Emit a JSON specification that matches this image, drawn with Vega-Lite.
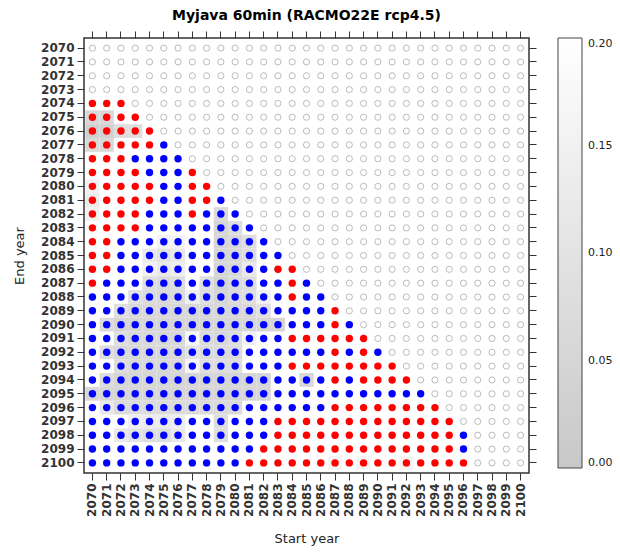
{
"$schema": "https://vega.github.io/schema/vega-lite/v6.json",
"width": 445, "height": 435,
"autosize": {"type": "none"},
"padding": {"left": 84, "top": 38, "right": 91, "bottom": 80},
"background": "white",
"config": {"view": {"stroke": "#333333", "strokeWidth": 1.5}},
"title": {"text": "Myjava 60min (RACMO22E rcp4.5)", "font": "DejaVu Sans", "fontSize": 14, "fontWeight": "bold", "color": "#000000", "anchor": "middle", "offset": 8},
"data": {"values": [
{"s":2070,"e":2070,"c":"N"},{"s":2071,"e":2070,"c":"N"},{"s":2072,"e":2070,"c":"N"},{"s":2073,"e":2070,"c":"N"},{"s":2074,"e":2070,"c":"N"},{"s":2075,"e":2070,"c":"N"},{"s":2076,"e":2070,"c":"N"},{"s":2077,"e":2070,"c":"N"},{"s":2078,"e":2070,"c":"N"},{"s":2079,"e":2070,"c":"N"},{"s":2080,"e":2070,"c":"N"},{"s":2081,"e":2070,"c":"N"},{"s":2082,"e":2070,"c":"N"},{"s":2083,"e":2070,"c":"N"},{"s":2084,"e":2070,"c":"N"},{"s":2085,"e":2070,"c":"N"},{"s":2086,"e":2070,"c":"N"},{"s":2087,"e":2070,"c":"N"},{"s":2088,"e":2070,"c":"N"},{"s":2089,"e":2070,"c":"N"},{"s":2090,"e":2070,"c":"N"},{"s":2091,"e":2070,"c":"N"},{"s":2092,"e":2070,"c":"N"},{"s":2093,"e":2070,"c":"N"},{"s":2094,"e":2070,"c":"N"},{"s":2095,"e":2070,"c":"N"},{"s":2096,"e":2070,"c":"N"},{"s":2097,"e":2070,"c":"N"},{"s":2098,"e":2070,"c":"N"},{"s":2099,"e":2070,"c":"N"},{"s":2100,"e":2070,"c":"N"},
{"s":2070,"e":2071,"c":"N"},{"s":2071,"e":2071,"c":"N"},{"s":2072,"e":2071,"c":"N"},{"s":2073,"e":2071,"c":"N"},{"s":2074,"e":2071,"c":"N"},{"s":2075,"e":2071,"c":"N"},{"s":2076,"e":2071,"c":"N"},{"s":2077,"e":2071,"c":"N"},{"s":2078,"e":2071,"c":"N"},{"s":2079,"e":2071,"c":"N"},{"s":2080,"e":2071,"c":"N"},{"s":2081,"e":2071,"c":"N"},{"s":2082,"e":2071,"c":"N"},{"s":2083,"e":2071,"c":"N"},{"s":2084,"e":2071,"c":"N"},{"s":2085,"e":2071,"c":"N"},{"s":2086,"e":2071,"c":"N"},{"s":2087,"e":2071,"c":"N"},{"s":2088,"e":2071,"c":"N"},{"s":2089,"e":2071,"c":"N"},{"s":2090,"e":2071,"c":"N"},{"s":2091,"e":2071,"c":"N"},{"s":2092,"e":2071,"c":"N"},{"s":2093,"e":2071,"c":"N"},{"s":2094,"e":2071,"c":"N"},{"s":2095,"e":2071,"c":"N"},{"s":2096,"e":2071,"c":"N"},{"s":2097,"e":2071,"c":"N"},{"s":2098,"e":2071,"c":"N"},{"s":2099,"e":2071,"c":"N"},{"s":2100,"e":2071,"c":"N"},
{"s":2070,"e":2072,"c":"N"},{"s":2071,"e":2072,"c":"N"},{"s":2072,"e":2072,"c":"N"},{"s":2073,"e":2072,"c":"N"},{"s":2074,"e":2072,"c":"N"},{"s":2075,"e":2072,"c":"N"},{"s":2076,"e":2072,"c":"N"},{"s":2077,"e":2072,"c":"N"},{"s":2078,"e":2072,"c":"N"},{"s":2079,"e":2072,"c":"N"},{"s":2080,"e":2072,"c":"N"},{"s":2081,"e":2072,"c":"N"},{"s":2082,"e":2072,"c":"N"},{"s":2083,"e":2072,"c":"N"},{"s":2084,"e":2072,"c":"N"},{"s":2085,"e":2072,"c":"N"},{"s":2086,"e":2072,"c":"N"},{"s":2087,"e":2072,"c":"N"},{"s":2088,"e":2072,"c":"N"},{"s":2089,"e":2072,"c":"N"},{"s":2090,"e":2072,"c":"N"},{"s":2091,"e":2072,"c":"N"},{"s":2092,"e":2072,"c":"N"},{"s":2093,"e":2072,"c":"N"},{"s":2094,"e":2072,"c":"N"},{"s":2095,"e":2072,"c":"N"},{"s":2096,"e":2072,"c":"N"},{"s":2097,"e":2072,"c":"N"},{"s":2098,"e":2072,"c":"N"},{"s":2099,"e":2072,"c":"N"},{"s":2100,"e":2072,"c":"N"},
{"s":2070,"e":2073,"c":"N"},{"s":2071,"e":2073,"c":"N"},{"s":2072,"e":2073,"c":"N"},{"s":2073,"e":2073,"c":"N"},{"s":2074,"e":2073,"c":"N"},{"s":2075,"e":2073,"c":"N"},{"s":2076,"e":2073,"c":"N"},{"s":2077,"e":2073,"c":"N"},{"s":2078,"e":2073,"c":"N"},{"s":2079,"e":2073,"c":"N"},{"s":2080,"e":2073,"c":"N"},{"s":2081,"e":2073,"c":"N"},{"s":2082,"e":2073,"c":"N"},{"s":2083,"e":2073,"c":"N"},{"s":2084,"e":2073,"c":"N"},{"s":2085,"e":2073,"c":"N"},{"s":2086,"e":2073,"c":"N"},{"s":2087,"e":2073,"c":"N"},{"s":2088,"e":2073,"c":"N"},{"s":2089,"e":2073,"c":"N"},{"s":2090,"e":2073,"c":"N"},{"s":2091,"e":2073,"c":"N"},{"s":2092,"e":2073,"c":"N"},{"s":2093,"e":2073,"c":"N"},{"s":2094,"e":2073,"c":"N"},{"s":2095,"e":2073,"c":"N"},{"s":2096,"e":2073,"c":"N"},{"s":2097,"e":2073,"c":"N"},{"s":2098,"e":2073,"c":"N"},{"s":2099,"e":2073,"c":"N"},{"s":2100,"e":2073,"c":"N"},
{"s":2070,"e":2074,"c":"R"},{"s":2071,"e":2074,"c":"R"},{"s":2072,"e":2074,"c":"R"},{"s":2073,"e":2074,"c":"N"},{"s":2074,"e":2074,"c":"N"},{"s":2075,"e":2074,"c":"N"},{"s":2076,"e":2074,"c":"N"},{"s":2077,"e":2074,"c":"N"},{"s":2078,"e":2074,"c":"N"},{"s":2079,"e":2074,"c":"N"},{"s":2080,"e":2074,"c":"N"},{"s":2081,"e":2074,"c":"N"},{"s":2082,"e":2074,"c":"N"},{"s":2083,"e":2074,"c":"N"},{"s":2084,"e":2074,"c":"N"},{"s":2085,"e":2074,"c":"N"},{"s":2086,"e":2074,"c":"N"},{"s":2087,"e":2074,"c":"N"},{"s":2088,"e":2074,"c":"N"},{"s":2089,"e":2074,"c":"N"},{"s":2090,"e":2074,"c":"N"},{"s":2091,"e":2074,"c":"N"},{"s":2092,"e":2074,"c":"N"},{"s":2093,"e":2074,"c":"N"},{"s":2094,"e":2074,"c":"N"},{"s":2095,"e":2074,"c":"N"},{"s":2096,"e":2074,"c":"N"},{"s":2097,"e":2074,"c":"N"},{"s":2098,"e":2074,"c":"N"},{"s":2099,"e":2074,"c":"N"},{"s":2100,"e":2074,"c":"N"},
{"s":2070,"e":2075,"c":"R","v":0.06},{"s":2071,"e":2075,"c":"R","v":0.06},{"s":2072,"e":2075,"c":"R"},{"s":2073,"e":2075,"c":"R"},{"s":2074,"e":2075,"c":"N"},{"s":2075,"e":2075,"c":"N"},{"s":2076,"e":2075,"c":"N"},{"s":2077,"e":2075,"c":"N"},{"s":2078,"e":2075,"c":"N"},{"s":2079,"e":2075,"c":"N"},{"s":2080,"e":2075,"c":"N"},{"s":2081,"e":2075,"c":"N"},{"s":2082,"e":2075,"c":"N"},{"s":2083,"e":2075,"c":"N"},{"s":2084,"e":2075,"c":"N"},{"s":2085,"e":2075,"c":"N"},{"s":2086,"e":2075,"c":"N"},{"s":2087,"e":2075,"c":"N"},{"s":2088,"e":2075,"c":"N"},{"s":2089,"e":2075,"c":"N"},{"s":2090,"e":2075,"c":"N"},{"s":2091,"e":2075,"c":"N"},{"s":2092,"e":2075,"c":"N"},{"s":2093,"e":2075,"c":"N"},{"s":2094,"e":2075,"c":"N"},{"s":2095,"e":2075,"c":"N"},{"s":2096,"e":2075,"c":"N"},{"s":2097,"e":2075,"c":"N"},{"s":2098,"e":2075,"c":"N"},{"s":2099,"e":2075,"c":"N"},{"s":2100,"e":2075,"c":"N"},
{"s":2070,"e":2076,"c":"R","v":0.03},{"s":2071,"e":2076,"c":"R","v":0.03},{"s":2072,"e":2076,"c":"R","v":0.08},{"s":2073,"e":2076,"c":"R","v":0.08},{"s":2074,"e":2076,"c":"R"},{"s":2075,"e":2076,"c":"N"},{"s":2076,"e":2076,"c":"N"},{"s":2077,"e":2076,"c":"N"},{"s":2078,"e":2076,"c":"N"},{"s":2079,"e":2076,"c":"N"},{"s":2080,"e":2076,"c":"N"},{"s":2081,"e":2076,"c":"N"},{"s":2082,"e":2076,"c":"N"},{"s":2083,"e":2076,"c":"N"},{"s":2084,"e":2076,"c":"N"},{"s":2085,"e":2076,"c":"N"},{"s":2086,"e":2076,"c":"N"},{"s":2087,"e":2076,"c":"N"},{"s":2088,"e":2076,"c":"N"},{"s":2089,"e":2076,"c":"N"},{"s":2090,"e":2076,"c":"N"},{"s":2091,"e":2076,"c":"N"},{"s":2092,"e":2076,"c":"N"},{"s":2093,"e":2076,"c":"N"},{"s":2094,"e":2076,"c":"N"},{"s":2095,"e":2076,"c":"N"},{"s":2096,"e":2076,"c":"N"},{"s":2097,"e":2076,"c":"N"},{"s":2098,"e":2076,"c":"N"},{"s":2099,"e":2076,"c":"N"},{"s":2100,"e":2076,"c":"N"},
{"s":2070,"e":2077,"c":"R","v":0.06},{"s":2071,"e":2077,"c":"R","v":0.06},{"s":2072,"e":2077,"c":"R"},{"s":2073,"e":2077,"c":"R"},{"s":2074,"e":2077,"c":"R"},{"s":2075,"e":2077,"c":"B"},{"s":2076,"e":2077,"c":"N"},{"s":2077,"e":2077,"c":"N"},{"s":2078,"e":2077,"c":"N"},{"s":2079,"e":2077,"c":"N"},{"s":2080,"e":2077,"c":"N"},{"s":2081,"e":2077,"c":"N"},{"s":2082,"e":2077,"c":"N"},{"s":2083,"e":2077,"c":"N"},{"s":2084,"e":2077,"c":"N"},{"s":2085,"e":2077,"c":"N"},{"s":2086,"e":2077,"c":"N"},{"s":2087,"e":2077,"c":"N"},{"s":2088,"e":2077,"c":"N"},{"s":2089,"e":2077,"c":"N"},{"s":2090,"e":2077,"c":"N"},{"s":2091,"e":2077,"c":"N"},{"s":2092,"e":2077,"c":"N"},{"s":2093,"e":2077,"c":"N"},{"s":2094,"e":2077,"c":"N"},{"s":2095,"e":2077,"c":"N"},{"s":2096,"e":2077,"c":"N"},{"s":2097,"e":2077,"c":"N"},{"s":2098,"e":2077,"c":"N"},{"s":2099,"e":2077,"c":"N"},{"s":2100,"e":2077,"c":"N"},
{"s":2070,"e":2078,"c":"R"},{"s":2071,"e":2078,"c":"R"},{"s":2072,"e":2078,"c":"R"},{"s":2073,"e":2078,"c":"B"},{"s":2074,"e":2078,"c":"B"},{"s":2075,"e":2078,"c":"B"},{"s":2076,"e":2078,"c":"B"},{"s":2077,"e":2078,"c":"N"},{"s":2078,"e":2078,"c":"N"},{"s":2079,"e":2078,"c":"N"},{"s":2080,"e":2078,"c":"N"},{"s":2081,"e":2078,"c":"N"},{"s":2082,"e":2078,"c":"N"},{"s":2083,"e":2078,"c":"N"},{"s":2084,"e":2078,"c":"N"},{"s":2085,"e":2078,"c":"N"},{"s":2086,"e":2078,"c":"N"},{"s":2087,"e":2078,"c":"N"},{"s":2088,"e":2078,"c":"N"},{"s":2089,"e":2078,"c":"N"},{"s":2090,"e":2078,"c":"N"},{"s":2091,"e":2078,"c":"N"},{"s":2092,"e":2078,"c":"N"},{"s":2093,"e":2078,"c":"N"},{"s":2094,"e":2078,"c":"N"},{"s":2095,"e":2078,"c":"N"},{"s":2096,"e":2078,"c":"N"},{"s":2097,"e":2078,"c":"N"},{"s":2098,"e":2078,"c":"N"},{"s":2099,"e":2078,"c":"N"},{"s":2100,"e":2078,"c":"N"},
{"s":2070,"e":2079,"c":"R"},{"s":2071,"e":2079,"c":"R"},{"s":2072,"e":2079,"c":"R"},{"s":2073,"e":2079,"c":"R"},{"s":2074,"e":2079,"c":"B"},{"s":2075,"e":2079,"c":"B"},{"s":2076,"e":2079,"c":"B"},{"s":2077,"e":2079,"c":"R"},{"s":2078,"e":2079,"c":"N"},{"s":2079,"e":2079,"c":"N"},{"s":2080,"e":2079,"c":"N"},{"s":2081,"e":2079,"c":"N"},{"s":2082,"e":2079,"c":"N"},{"s":2083,"e":2079,"c":"N"},{"s":2084,"e":2079,"c":"N"},{"s":2085,"e":2079,"c":"N"},{"s":2086,"e":2079,"c":"N"},{"s":2087,"e":2079,"c":"N"},{"s":2088,"e":2079,"c":"N"},{"s":2089,"e":2079,"c":"N"},{"s":2090,"e":2079,"c":"N"},{"s":2091,"e":2079,"c":"N"},{"s":2092,"e":2079,"c":"N"},{"s":2093,"e":2079,"c":"N"},{"s":2094,"e":2079,"c":"N"},{"s":2095,"e":2079,"c":"N"},{"s":2096,"e":2079,"c":"N"},{"s":2097,"e":2079,"c":"N"},{"s":2098,"e":2079,"c":"N"},{"s":2099,"e":2079,"c":"N"},{"s":2100,"e":2079,"c":"N"},
{"s":2070,"e":2080,"c":"R","v":0.15},{"s":2071,"e":2080,"c":"R"},{"s":2072,"e":2080,"c":"R"},{"s":2073,"e":2080,"c":"R"},{"s":2074,"e":2080,"c":"R"},{"s":2075,"e":2080,"c":"B"},{"s":2076,"e":2080,"c":"B"},{"s":2077,"e":2080,"c":"R"},{"s":2078,"e":2080,"c":"R"},{"s":2079,"e":2080,"c":"N"},{"s":2080,"e":2080,"c":"N"},{"s":2081,"e":2080,"c":"N"},{"s":2082,"e":2080,"c":"N"},{"s":2083,"e":2080,"c":"N"},{"s":2084,"e":2080,"c":"N"},{"s":2085,"e":2080,"c":"N"},{"s":2086,"e":2080,"c":"N"},{"s":2087,"e":2080,"c":"N"},{"s":2088,"e":2080,"c":"N"},{"s":2089,"e":2080,"c":"N"},{"s":2090,"e":2080,"c":"N"},{"s":2091,"e":2080,"c":"N"},{"s":2092,"e":2080,"c":"N"},{"s":2093,"e":2080,"c":"N"},{"s":2094,"e":2080,"c":"N"},{"s":2095,"e":2080,"c":"N"},{"s":2096,"e":2080,"c":"N"},{"s":2097,"e":2080,"c":"N"},{"s":2098,"e":2080,"c":"N"},{"s":2099,"e":2080,"c":"N"},{"s":2100,"e":2080,"c":"N"},
{"s":2070,"e":2081,"c":"R","v":0.13},{"s":2071,"e":2081,"c":"R"},{"s":2072,"e":2081,"c":"R"},{"s":2073,"e":2081,"c":"R"},{"s":2074,"e":2081,"c":"R"},{"s":2075,"e":2081,"c":"B"},{"s":2076,"e":2081,"c":"B"},{"s":2077,"e":2081,"c":"R"},{"s":2078,"e":2081,"c":"R"},{"s":2079,"e":2081,"c":"B"},{"s":2080,"e":2081,"c":"N"},{"s":2081,"e":2081,"c":"N"},{"s":2082,"e":2081,"c":"N"},{"s":2083,"e":2081,"c":"N"},{"s":2084,"e":2081,"c":"N"},{"s":2085,"e":2081,"c":"N"},{"s":2086,"e":2081,"c":"N"},{"s":2087,"e":2081,"c":"N"},{"s":2088,"e":2081,"c":"N"},{"s":2089,"e":2081,"c":"N"},{"s":2090,"e":2081,"c":"N"},{"s":2091,"e":2081,"c":"N"},{"s":2092,"e":2081,"c":"N"},{"s":2093,"e":2081,"c":"N"},{"s":2094,"e":2081,"c":"N"},{"s":2095,"e":2081,"c":"N"},{"s":2096,"e":2081,"c":"N"},{"s":2097,"e":2081,"c":"N"},{"s":2098,"e":2081,"c":"N"},{"s":2099,"e":2081,"c":"N"},{"s":2100,"e":2081,"c":"N"},
{"s":2070,"e":2082,"c":"R","v":0.15},{"s":2071,"e":2082,"c":"R"},{"s":2072,"e":2082,"c":"R"},{"s":2073,"e":2082,"c":"R"},{"s":2074,"e":2082,"c":"B"},{"s":2075,"e":2082,"c":"B"},{"s":2076,"e":2082,"c":"B"},{"s":2077,"e":2082,"c":"R"},{"s":2078,"e":2082,"c":"B"},{"s":2079,"e":2082,"c":"B","v":0.07},{"s":2080,"e":2082,"c":"B"},{"s":2081,"e":2082,"c":"N"},{"s":2082,"e":2082,"c":"N"},{"s":2083,"e":2082,"c":"N"},{"s":2084,"e":2082,"c":"N"},{"s":2085,"e":2082,"c":"N"},{"s":2086,"e":2082,"c":"N"},{"s":2087,"e":2082,"c":"N"},{"s":2088,"e":2082,"c":"N"},{"s":2089,"e":2082,"c":"N"},{"s":2090,"e":2082,"c":"N"},{"s":2091,"e":2082,"c":"N"},{"s":2092,"e":2082,"c":"N"},{"s":2093,"e":2082,"c":"N"},{"s":2094,"e":2082,"c":"N"},{"s":2095,"e":2082,"c":"N"},{"s":2096,"e":2082,"c":"N"},{"s":2097,"e":2082,"c":"N"},{"s":2098,"e":2082,"c":"N"},{"s":2099,"e":2082,"c":"N"},{"s":2100,"e":2082,"c":"N"},
{"s":2070,"e":2083,"c":"R"},{"s":2071,"e":2083,"c":"R"},{"s":2072,"e":2083,"c":"R"},{"s":2073,"e":2083,"c":"R"},{"s":2074,"e":2083,"c":"B"},{"s":2075,"e":2083,"c":"B"},{"s":2076,"e":2083,"c":"B"},{"s":2077,"e":2083,"c":"B"},{"s":2078,"e":2083,"c":"B"},{"s":2079,"e":2083,"c":"B","v":0.05},{"s":2080,"e":2083,"c":"B","v":0.08},{"s":2081,"e":2083,"c":"B"},{"s":2082,"e":2083,"c":"N"},{"s":2083,"e":2083,"c":"N"},{"s":2084,"e":2083,"c":"N"},{"s":2085,"e":2083,"c":"N"},{"s":2086,"e":2083,"c":"N"},{"s":2087,"e":2083,"c":"N"},{"s":2088,"e":2083,"c":"N"},{"s":2089,"e":2083,"c":"N"},{"s":2090,"e":2083,"c":"N"},{"s":2091,"e":2083,"c":"N"},{"s":2092,"e":2083,"c":"N"},{"s":2093,"e":2083,"c":"N"},{"s":2094,"e":2083,"c":"N"},{"s":2095,"e":2083,"c":"N"},{"s":2096,"e":2083,"c":"N"},{"s":2097,"e":2083,"c":"N"},{"s":2098,"e":2083,"c":"N"},{"s":2099,"e":2083,"c":"N"},{"s":2100,"e":2083,"c":"N"},
{"s":2070,"e":2084,"c":"R"},{"s":2071,"e":2084,"c":"R"},{"s":2072,"e":2084,"c":"B"},{"s":2073,"e":2084,"c":"B"},{"s":2074,"e":2084,"c":"B"},{"s":2075,"e":2084,"c":"B","v":0.16},{"s":2076,"e":2084,"c":"B","v":0.16},{"s":2077,"e":2084,"c":"B"},{"s":2078,"e":2084,"c":"B"},{"s":2079,"e":2084,"c":"B","v":0.05},{"s":2080,"e":2084,"c":"B","v":0.06},{"s":2081,"e":2084,"c":"B","v":0.08},{"s":2082,"e":2084,"c":"B"},{"s":2083,"e":2084,"c":"N"},{"s":2084,"e":2084,"c":"N"},{"s":2085,"e":2084,"c":"N"},{"s":2086,"e":2084,"c":"N"},{"s":2087,"e":2084,"c":"N"},{"s":2088,"e":2084,"c":"N"},{"s":2089,"e":2084,"c":"N"},{"s":2090,"e":2084,"c":"N"},{"s":2091,"e":2084,"c":"N"},{"s":2092,"e":2084,"c":"N"},{"s":2093,"e":2084,"c":"N"},{"s":2094,"e":2084,"c":"N"},{"s":2095,"e":2084,"c":"N"},{"s":2096,"e":2084,"c":"N"},{"s":2097,"e":2084,"c":"N"},{"s":2098,"e":2084,"c":"N"},{"s":2099,"e":2084,"c":"N"},{"s":2100,"e":2084,"c":"N"},
{"s":2070,"e":2085,"c":"R"},{"s":2071,"e":2085,"c":"R"},{"s":2072,"e":2085,"c":"B"},{"s":2073,"e":2085,"c":"B"},{"s":2074,"e":2085,"c":"B","v":0.12},{"s":2075,"e":2085,"c":"B","v":0.1},{"s":2076,"e":2085,"c":"B","v":0.12},{"s":2077,"e":2085,"c":"B"},{"s":2078,"e":2085,"c":"B"},{"s":2079,"e":2085,"c":"B","v":0.05},{"s":2080,"e":2085,"c":"B","v":0.06},{"s":2081,"e":2085,"c":"B","v":0.08},{"s":2082,"e":2085,"c":"B"},{"s":2083,"e":2085,"c":"B"},{"s":2084,"e":2085,"c":"N"},{"s":2085,"e":2085,"c":"N"},{"s":2086,"e":2085,"c":"N"},{"s":2087,"e":2085,"c":"N"},{"s":2088,"e":2085,"c":"N"},{"s":2089,"e":2085,"c":"N"},{"s":2090,"e":2085,"c":"N"},{"s":2091,"e":2085,"c":"N"},{"s":2092,"e":2085,"c":"N"},{"s":2093,"e":2085,"c":"N"},{"s":2094,"e":2085,"c":"N"},{"s":2095,"e":2085,"c":"N"},{"s":2096,"e":2085,"c":"N"},{"s":2097,"e":2085,"c":"N"},{"s":2098,"e":2085,"c":"N"},{"s":2099,"e":2085,"c":"N"},{"s":2100,"e":2085,"c":"N"},
{"s":2070,"e":2086,"c":"R"},{"s":2071,"e":2086,"c":"R"},{"s":2072,"e":2086,"c":"B"},{"s":2073,"e":2086,"c":"B"},{"s":2074,"e":2086,"c":"B","v":0.15},{"s":2075,"e":2086,"c":"B","v":0.12},{"s":2076,"e":2086,"c":"B","v":0.14},{"s":2077,"e":2086,"c":"B"},{"s":2078,"e":2086,"c":"B"},{"s":2079,"e":2086,"c":"B","v":0.05},{"s":2080,"e":2086,"c":"B","v":0.06},{"s":2081,"e":2086,"c":"B","v":0.12},{"s":2082,"e":2086,"c":"B"},{"s":2083,"e":2086,"c":"R"},{"s":2084,"e":2086,"c":"R"},{"s":2085,"e":2086,"c":"N"},{"s":2086,"e":2086,"c":"N"},{"s":2087,"e":2086,"c":"N"},{"s":2088,"e":2086,"c":"N"},{"s":2089,"e":2086,"c":"N"},{"s":2090,"e":2086,"c":"N"},{"s":2091,"e":2086,"c":"N"},{"s":2092,"e":2086,"c":"N"},{"s":2093,"e":2086,"c":"N"},{"s":2094,"e":2086,"c":"N"},{"s":2095,"e":2086,"c":"N"},{"s":2096,"e":2086,"c":"N"},{"s":2097,"e":2086,"c":"N"},{"s":2098,"e":2086,"c":"N"},{"s":2099,"e":2086,"c":"N"},{"s":2100,"e":2086,"c":"N"},
{"s":2070,"e":2087,"c":"R"},{"s":2071,"e":2087,"c":"B"},{"s":2072,"e":2087,"c":"B"},{"s":2073,"e":2087,"c":"B"},{"s":2074,"e":2087,"c":"B","v":0.08},{"s":2075,"e":2087,"c":"B","v":0.07},{"s":2076,"e":2087,"c":"B","v":0.08},{"s":2077,"e":2087,"c":"B"},{"s":2078,"e":2087,"c":"B","v":0.09},{"s":2079,"e":2087,"c":"B","v":0.04},{"s":2080,"e":2087,"c":"B","v":0.07},{"s":2081,"e":2087,"c":"B","v":0.08},{"s":2082,"e":2087,"c":"B"},{"s":2083,"e":2087,"c":"B"},{"s":2084,"e":2087,"c":"R"},{"s":2085,"e":2087,"c":"B"},{"s":2086,"e":2087,"c":"N"},{"s":2087,"e":2087,"c":"N"},{"s":2088,"e":2087,"c":"N"},{"s":2089,"e":2087,"c":"N"},{"s":2090,"e":2087,"c":"N"},{"s":2091,"e":2087,"c":"N"},{"s":2092,"e":2087,"c":"N"},{"s":2093,"e":2087,"c":"N"},{"s":2094,"e":2087,"c":"N"},{"s":2095,"e":2087,"c":"N"},{"s":2096,"e":2087,"c":"N"},{"s":2097,"e":2087,"c":"N"},{"s":2098,"e":2087,"c":"N"},{"s":2099,"e":2087,"c":"N"},{"s":2100,"e":2087,"c":"N"},
{"s":2070,"e":2088,"c":"B"},{"s":2071,"e":2088,"c":"B"},{"s":2072,"e":2088,"c":"B"},{"s":2073,"e":2088,"c":"B","v":0.09},{"s":2074,"e":2088,"c":"B","v":0.07},{"s":2075,"e":2088,"c":"B","v":0.06},{"s":2076,"e":2088,"c":"B","v":0.07},{"s":2077,"e":2088,"c":"B","v":0.14},{"s":2078,"e":2088,"c":"B","v":0.08},{"s":2079,"e":2088,"c":"B","v":0.05},{"s":2080,"e":2088,"c":"B","v":0.07},{"s":2081,"e":2088,"c":"B","v":0.08},{"s":2082,"e":2088,"c":"B","v":0.15},{"s":2083,"e":2088,"c":"B"},{"s":2084,"e":2088,"c":"R"},{"s":2085,"e":2088,"c":"B"},{"s":2086,"e":2088,"c":"B"},{"s":2087,"e":2088,"c":"N"},{"s":2088,"e":2088,"c":"N"},{"s":2089,"e":2088,"c":"N"},{"s":2090,"e":2088,"c":"N"},{"s":2091,"e":2088,"c":"N"},{"s":2092,"e":2088,"c":"N"},{"s":2093,"e":2088,"c":"N"},{"s":2094,"e":2088,"c":"N"},{"s":2095,"e":2088,"c":"N"},{"s":2096,"e":2088,"c":"N"},{"s":2097,"e":2088,"c":"N"},{"s":2098,"e":2088,"c":"N"},{"s":2099,"e":2088,"c":"N"},{"s":2100,"e":2088,"c":"N"},
{"s":2070,"e":2089,"c":"B"},{"s":2071,"e":2089,"c":"B"},{"s":2072,"e":2089,"c":"B","v":0.09},{"s":2073,"e":2089,"c":"B","v":0.06},{"s":2074,"e":2089,"c":"B","v":0.06},{"s":2075,"e":2089,"c":"B","v":0.06},{"s":2076,"e":2089,"c":"B","v":0.06},{"s":2077,"e":2089,"c":"B","v":0.06},{"s":2078,"e":2089,"c":"B","v":0.06},{"s":2079,"e":2089,"c":"B","v":0.06},{"s":2080,"e":2089,"c":"B","v":0.06},{"s":2081,"e":2089,"c":"B","v":0.06},{"s":2082,"e":2089,"c":"B","v":0.09},{"s":2083,"e":2089,"c":"B"},{"s":2084,"e":2089,"c":"B"},{"s":2085,"e":2089,"c":"B"},{"s":2086,"e":2089,"c":"B"},{"s":2087,"e":2089,"c":"R"},{"s":2088,"e":2089,"c":"N"},{"s":2089,"e":2089,"c":"N"},{"s":2090,"e":2089,"c":"N"},{"s":2091,"e":2089,"c":"N"},{"s":2092,"e":2089,"c":"N"},{"s":2093,"e":2089,"c":"N"},{"s":2094,"e":2089,"c":"N"},{"s":2095,"e":2089,"c":"N"},{"s":2096,"e":2089,"c":"N"},{"s":2097,"e":2089,"c":"N"},{"s":2098,"e":2089,"c":"N"},{"s":2099,"e":2089,"c":"N"},{"s":2100,"e":2089,"c":"N"},
{"s":2070,"e":2090,"c":"B"},{"s":2071,"e":2090,"c":"B","v":0.07},{"s":2072,"e":2090,"c":"B","v":0.05},{"s":2073,"e":2090,"c":"B","v":0.05},{"s":2074,"e":2090,"c":"B","v":0.05},{"s":2075,"e":2090,"c":"B","v":0.05},{"s":2076,"e":2090,"c":"B","v":0.05},{"s":2077,"e":2090,"c":"B","v":0.05},{"s":2078,"e":2090,"c":"B","v":0.05},{"s":2079,"e":2090,"c":"B","v":0.05},{"s":2080,"e":2090,"c":"B","v":0.05},{"s":2081,"e":2090,"c":"B","v":0.05},{"s":2082,"e":2090,"c":"B","v":0.05},{"s":2083,"e":2090,"c":"B","v":0.05},{"s":2084,"e":2090,"c":"B"},{"s":2085,"e":2090,"c":"B"},{"s":2086,"e":2090,"c":"B"},{"s":2087,"e":2090,"c":"R"},{"s":2088,"e":2090,"c":"B"},{"s":2089,"e":2090,"c":"N"},{"s":2090,"e":2090,"c":"N"},{"s":2091,"e":2090,"c":"N"},{"s":2092,"e":2090,"c":"N"},{"s":2093,"e":2090,"c":"N"},{"s":2094,"e":2090,"c":"N"},{"s":2095,"e":2090,"c":"N"},{"s":2096,"e":2090,"c":"N"},{"s":2097,"e":2090,"c":"N"},{"s":2098,"e":2090,"c":"N"},{"s":2099,"e":2090,"c":"N"},{"s":2100,"e":2090,"c":"N"},
{"s":2070,"e":2091,"c":"B"},{"s":2071,"e":2091,"c":"B"},{"s":2072,"e":2091,"c":"B","v":0.08},{"s":2073,"e":2091,"c":"B","v":0.06},{"s":2074,"e":2091,"c":"B","v":0.06},{"s":2075,"e":2091,"c":"B","v":0.06},{"s":2076,"e":2091,"c":"B","v":0.06},{"s":2077,"e":2091,"c":"B","v":0.17},{"s":2078,"e":2091,"c":"B","v":0.07},{"s":2079,"e":2091,"c":"B","v":0.06},{"s":2080,"e":2091,"c":"B","v":0.08},{"s":2081,"e":2091,"c":"B","v":0.15},{"s":2082,"e":2091,"c":"B"},{"s":2083,"e":2091,"c":"B"},{"s":2084,"e":2091,"c":"R"},{"s":2085,"e":2091,"c":"R"},{"s":2086,"e":2091,"c":"R"},{"s":2087,"e":2091,"c":"R"},{"s":2088,"e":2091,"c":"R"},{"s":2089,"e":2091,"c":"R"},{"s":2090,"e":2091,"c":"N"},{"s":2091,"e":2091,"c":"N"},{"s":2092,"e":2091,"c":"N"},{"s":2093,"e":2091,"c":"N"},{"s":2094,"e":2091,"c":"N"},{"s":2095,"e":2091,"c":"N"},{"s":2096,"e":2091,"c":"N"},{"s":2097,"e":2091,"c":"N"},{"s":2098,"e":2091,"c":"N"},{"s":2099,"e":2091,"c":"N"},{"s":2100,"e":2091,"c":"N"},
{"s":2070,"e":2092,"c":"B"},{"s":2071,"e":2092,"c":"B","v":0.08},{"s":2072,"e":2092,"c":"B","v":0.06},{"s":2073,"e":2092,"c":"B","v":0.06},{"s":2074,"e":2092,"c":"B","v":0.06},{"s":2075,"e":2092,"c":"B","v":0.06},{"s":2076,"e":2092,"c":"B","v":0.06},{"s":2077,"e":2092,"c":"B","v":0.1},{"s":2078,"e":2092,"c":"B","v":0.07},{"s":2079,"e":2092,"c":"B","v":0.07},{"s":2080,"e":2092,"c":"B","v":0.07},{"s":2081,"e":2092,"c":"B"},{"s":2082,"e":2092,"c":"B"},{"s":2083,"e":2092,"c":"B"},{"s":2084,"e":2092,"c":"B"},{"s":2085,"e":2092,"c":"B"},{"s":2086,"e":2092,"c":"B"},{"s":2087,"e":2092,"c":"R"},{"s":2088,"e":2092,"c":"B"},{"s":2089,"e":2092,"c":"R"},{"s":2090,"e":2092,"c":"B"},{"s":2091,"e":2092,"c":"N"},{"s":2092,"e":2092,"c":"N"},{"s":2093,"e":2092,"c":"N"},{"s":2094,"e":2092,"c":"N"},{"s":2095,"e":2092,"c":"N"},{"s":2096,"e":2092,"c":"N"},{"s":2097,"e":2092,"c":"N"},{"s":2098,"e":2092,"c":"N"},{"s":2099,"e":2092,"c":"N"},{"s":2100,"e":2092,"c":"N"},
{"s":2070,"e":2093,"c":"B"},{"s":2071,"e":2093,"c":"B"},{"s":2072,"e":2093,"c":"B","v":0.08},{"s":2073,"e":2093,"c":"B","v":0.06},{"s":2074,"e":2093,"c":"B","v":0.06},{"s":2075,"e":2093,"c":"B","v":0.06},{"s":2076,"e":2093,"c":"B","v":0.06},{"s":2077,"e":2093,"c":"B","v":0.16},{"s":2078,"e":2093,"c":"B","v":0.08},{"s":2079,"e":2093,"c":"B","v":0.08},{"s":2080,"e":2093,"c":"B","v":0.08},{"s":2081,"e":2093,"c":"B"},{"s":2082,"e":2093,"c":"B"},{"s":2083,"e":2093,"c":"B"},{"s":2084,"e":2093,"c":"R"},{"s":2085,"e":2093,"c":"R"},{"s":2086,"e":2093,"c":"R"},{"s":2087,"e":2093,"c":"R"},{"s":2088,"e":2093,"c":"R"},{"s":2089,"e":2093,"c":"R"},{"s":2090,"e":2093,"c":"R"},{"s":2091,"e":2093,"c":"R"},{"s":2092,"e":2093,"c":"N"},{"s":2093,"e":2093,"c":"N"},{"s":2094,"e":2093,"c":"N"},{"s":2095,"e":2093,"c":"N"},{"s":2096,"e":2093,"c":"N"},{"s":2097,"e":2093,"c":"N"},{"s":2098,"e":2093,"c":"N"},{"s":2099,"e":2093,"c":"N"},{"s":2100,"e":2093,"c":"N"},
{"s":2070,"e":2094,"c":"B"},{"s":2071,"e":2094,"c":"B","v":0.07},{"s":2072,"e":2094,"c":"B","v":0.05},{"s":2073,"e":2094,"c":"B","v":0.05},{"s":2074,"e":2094,"c":"B","v":0.05},{"s":2075,"e":2094,"c":"B","v":0.05},{"s":2076,"e":2094,"c":"B","v":0.05},{"s":2077,"e":2094,"c":"B","v":0.05},{"s":2078,"e":2094,"c":"B","v":0.05},{"s":2079,"e":2094,"c":"B","v":0.05},{"s":2080,"e":2094,"c":"B","v":0.05},{"s":2081,"e":2094,"c":"B","v":0.05},{"s":2082,"e":2094,"c":"B","v":0.05},{"s":2083,"e":2094,"c":"B"},{"s":2084,"e":2094,"c":"B"},{"s":2085,"e":2094,"c":"B","v":0.06},{"s":2086,"e":2094,"c":"B"},{"s":2087,"e":2094,"c":"R"},{"s":2088,"e":2094,"c":"B"},{"s":2089,"e":2094,"c":"R"},{"s":2090,"e":2094,"c":"R"},{"s":2091,"e":2094,"c":"R"},{"s":2092,"e":2094,"c":"R"},{"s":2093,"e":2094,"c":"N"},{"s":2094,"e":2094,"c":"N"},{"s":2095,"e":2094,"c":"N"},{"s":2096,"e":2094,"c":"N"},{"s":2097,"e":2094,"c":"N"},{"s":2098,"e":2094,"c":"N"},{"s":2099,"e":2094,"c":"N"},{"s":2100,"e":2094,"c":"N"},
{"s":2070,"e":2095,"c":"B","v":0.06},{"s":2071,"e":2095,"c":"B","v":0.05},{"s":2072,"e":2095,"c":"B","v":0.05},{"s":2073,"e":2095,"c":"B","v":0.05},{"s":2074,"e":2095,"c":"B","v":0.05},{"s":2075,"e":2095,"c":"B","v":0.05},{"s":2076,"e":2095,"c":"B","v":0.05},{"s":2077,"e":2095,"c":"B","v":0.05},{"s":2078,"e":2095,"c":"B","v":0.05},{"s":2079,"e":2095,"c":"B","v":0.05},{"s":2080,"e":2095,"c":"B","v":0.05},{"s":2081,"e":2095,"c":"B","v":0.05},{"s":2082,"e":2095,"c":"B","v":0.05},{"s":2083,"e":2095,"c":"B"},{"s":2084,"e":2095,"c":"B"},{"s":2085,"e":2095,"c":"B"},{"s":2086,"e":2095,"c":"B"},{"s":2087,"e":2095,"c":"B"},{"s":2088,"e":2095,"c":"B"},{"s":2089,"e":2095,"c":"B"},{"s":2090,"e":2095,"c":"B"},{"s":2091,"e":2095,"c":"B"},{"s":2092,"e":2095,"c":"B"},{"s":2093,"e":2095,"c":"B"},{"s":2094,"e":2095,"c":"N"},{"s":2095,"e":2095,"c":"N"},{"s":2096,"e":2095,"c":"N"},{"s":2097,"e":2095,"c":"N"},{"s":2098,"e":2095,"c":"N"},{"s":2099,"e":2095,"c":"N"},{"s":2100,"e":2095,"c":"N"},
{"s":2070,"e":2096,"c":"B"},{"s":2071,"e":2096,"c":"B","v":0.12},{"s":2072,"e":2096,"c":"B","v":0.07},{"s":2073,"e":2096,"c":"B","v":0.07},{"s":2074,"e":2096,"c":"B","v":0.07},{"s":2075,"e":2096,"c":"B","v":0.07},{"s":2076,"e":2096,"c":"B","v":0.07},{"s":2077,"e":2096,"c":"B","v":0.07},{"s":2078,"e":2096,"c":"B","v":0.07},{"s":2079,"e":2096,"c":"B","v":0.07},{"s":2080,"e":2096,"c":"B","v":0.07},{"s":2081,"e":2096,"c":"B"},{"s":2082,"e":2096,"c":"B"},{"s":2083,"e":2096,"c":"B"},{"s":2084,"e":2096,"c":"B"},{"s":2085,"e":2096,"c":"B"},{"s":2086,"e":2096,"c":"B"},{"s":2087,"e":2096,"c":"R"},{"s":2088,"e":2096,"c":"R"},{"s":2089,"e":2096,"c":"R"},{"s":2090,"e":2096,"c":"R"},{"s":2091,"e":2096,"c":"R"},{"s":2092,"e":2096,"c":"R"},{"s":2093,"e":2096,"c":"R"},{"s":2094,"e":2096,"c":"R"},{"s":2095,"e":2096,"c":"N"},{"s":2096,"e":2096,"c":"N"},{"s":2097,"e":2096,"c":"N"},{"s":2098,"e":2096,"c":"N"},{"s":2099,"e":2096,"c":"N"},{"s":2100,"e":2096,"c":"N"},
{"s":2070,"e":2097,"c":"B"},{"s":2071,"e":2097,"c":"B"},{"s":2072,"e":2097,"c":"B"},{"s":2073,"e":2097,"c":"B","v":0.14},{"s":2074,"e":2097,"c":"B","v":0.13},{"s":2075,"e":2097,"c":"B","v":0.13},{"s":2076,"e":2097,"c":"B","v":0.14},{"s":2077,"e":2097,"c":"B"},{"s":2078,"e":2097,"c":"B"},{"s":2079,"e":2097,"c":"B","v":0.08},{"s":2080,"e":2097,"c":"B"},{"s":2081,"e":2097,"c":"B"},{"s":2082,"e":2097,"c":"B"},{"s":2083,"e":2097,"c":"R"},{"s":2084,"e":2097,"c":"R"},{"s":2085,"e":2097,"c":"R"},{"s":2086,"e":2097,"c":"R"},{"s":2087,"e":2097,"c":"R"},{"s":2088,"e":2097,"c":"R"},{"s":2089,"e":2097,"c":"R"},{"s":2090,"e":2097,"c":"R"},{"s":2091,"e":2097,"c":"R"},{"s":2092,"e":2097,"c":"R"},{"s":2093,"e":2097,"c":"R"},{"s":2094,"e":2097,"c":"R"},{"s":2095,"e":2097,"c":"R"},{"s":2096,"e":2097,"c":"N"},{"s":2097,"e":2097,"c":"N"},{"s":2098,"e":2097,"c":"N"},{"s":2099,"e":2097,"c":"N"},{"s":2100,"e":2097,"c":"N"},
{"s":2070,"e":2098,"c":"B"},{"s":2071,"e":2098,"c":"B"},{"s":2072,"e":2098,"c":"B","v":0.12},{"s":2073,"e":2098,"c":"B","v":0.1},{"s":2074,"e":2098,"c":"B","v":0.08},{"s":2075,"e":2098,"c":"B","v":0.08},{"s":2076,"e":2098,"c":"B","v":0.12},{"s":2077,"e":2098,"c":"B"},{"s":2078,"e":2098,"c":"B"},{"s":2079,"e":2098,"c":"B","v":0.08},{"s":2080,"e":2098,"c":"B"},{"s":2081,"e":2098,"c":"B"},{"s":2082,"e":2098,"c":"B"},{"s":2083,"e":2098,"c":"R"},{"s":2084,"e":2098,"c":"R"},{"s":2085,"e":2098,"c":"R"},{"s":2086,"e":2098,"c":"R"},{"s":2087,"e":2098,"c":"R"},{"s":2088,"e":2098,"c":"R"},{"s":2089,"e":2098,"c":"R"},{"s":2090,"e":2098,"c":"R"},{"s":2091,"e":2098,"c":"R"},{"s":2092,"e":2098,"c":"R"},{"s":2093,"e":2098,"c":"R"},{"s":2094,"e":2098,"c":"R"},{"s":2095,"e":2098,"c":"R"},{"s":2096,"e":2098,"c":"B"},{"s":2097,"e":2098,"c":"N"},{"s":2098,"e":2098,"c":"N"},{"s":2099,"e":2098,"c":"N"},{"s":2100,"e":2098,"c":"N"},
{"s":2070,"e":2099,"c":"B"},{"s":2071,"e":2099,"c":"B"},{"s":2072,"e":2099,"c":"B"},{"s":2073,"e":2099,"c":"B"},{"s":2074,"e":2099,"c":"B"},{"s":2075,"e":2099,"c":"B"},{"s":2076,"e":2099,"c":"B"},{"s":2077,"e":2099,"c":"B"},{"s":2078,"e":2099,"c":"B"},{"s":2079,"e":2099,"c":"B"},{"s":2080,"e":2099,"c":"B"},{"s":2081,"e":2099,"c":"B"},{"s":2082,"e":2099,"c":"R"},{"s":2083,"e":2099,"c":"R"},{"s":2084,"e":2099,"c":"R"},{"s":2085,"e":2099,"c":"R"},{"s":2086,"e":2099,"c":"R"},{"s":2087,"e":2099,"c":"R"},{"s":2088,"e":2099,"c":"R"},{"s":2089,"e":2099,"c":"R"},{"s":2090,"e":2099,"c":"R"},{"s":2091,"e":2099,"c":"R"},{"s":2092,"e":2099,"c":"R"},{"s":2093,"e":2099,"c":"R"},{"s":2094,"e":2099,"c":"R"},{"s":2095,"e":2099,"c":"R"},{"s":2096,"e":2099,"c":"B"},{"s":2097,"e":2099,"c":"N"},{"s":2098,"e":2099,"c":"N"},{"s":2099,"e":2099,"c":"N"},{"s":2100,"e":2099,"c":"N"},
{"s":2070,"e":2100,"c":"B"},{"s":2071,"e":2100,"c":"B"},{"s":2072,"e":2100,"c":"B"},{"s":2073,"e":2100,"c":"B"},{"s":2074,"e":2100,"c":"B"},{"s":2075,"e":2100,"c":"B"},{"s":2076,"e":2100,"c":"B"},{"s":2077,"e":2100,"c":"B"},{"s":2078,"e":2100,"c":"B"},{"s":2079,"e":2100,"c":"B"},{"s":2080,"e":2100,"c":"B"},{"s":2081,"e":2100,"c":"R"},{"s":2082,"e":2100,"c":"R"},{"s":2083,"e":2100,"c":"R"},{"s":2084,"e":2100,"c":"R"},{"s":2085,"e":2100,"c":"R"},{"s":2086,"e":2100,"c":"R"},{"s":2087,"e":2100,"c":"R","v":0.16},{"s":2088,"e":2100,"c":"R"},{"s":2089,"e":2100,"c":"R","v":0.16},{"s":2090,"e":2100,"c":"R"},{"s":2091,"e":2100,"c":"R"},{"s":2092,"e":2100,"c":"R","v":0.16},{"s":2093,"e":2100,"c":"R"},{"s":2094,"e":2100,"c":"R"},{"s":2095,"e":2100,"c":"R"},{"s":2096,"e":2100,"c":"R"},{"s":2097,"e":2100,"c":"N"},{"s":2098,"e":2100,"c":"N"},{"s":2099,"e":2100,"c":"N"},{"s":2100,"e":2100,"c":"N"}
]},
"layer": [
{
"transform": [{"filter": "datum.v != null"}],
"mark": {"type": "rect"},
"encoding": {
"x": {"field": "s", "type": "ordinal", "scale": {"paddingInner": 0, "paddingOuter": 0.09},
"axis": {"orient": "bottom", "title": "Start year", "labelAngle": -90, "labelAlign": "right", "labelBaseline": "middle", "bandPosition": 0.5, "domain": false, "grid": false, "tickSize": 7, "tickColor": "#333333", "tickWidth": 1, "labelFont": "DejaVu Sans", "labelFontSize": 12, "labelFontWeight": "bold", "labelColor": "#333333", "labelPadding": 3, "titleFont": "DejaVu Sans", "titleFontSize": 13, "titleFontWeight": "normal", "titleColor": "#222222", "titlePadding": 16}},
"y": {"field": "e", "type": "ordinal", "scale": {"paddingInner": 0, "paddingOuter": 0.23},
"axis": {"orient": "left", "title": "End year", "bandPosition": 0.5, "domain": false, "grid": false, "tickSize": 7, "tickColor": "#333333", "tickWidth": 1, "labelFont": "DejaVu Sans", "labelFontSize": 12, "labelFontWeight": "bold", "labelColor": "#333333", "labelPadding": 3, "titleFont": "DejaVu Sans", "titleFontSize": 13, "titleFontWeight": "normal", "titleColor": "#222222", "titlePadding": 14}},
"color": {"field": "v", "type": "quantitative", "scale": {"domain": [0, 0.2], "range": ["#c8c8c8", "#ffffff"], "clamp": true},
"legend": {"orient": "none", "legendX": 474, "legendY": 0, "direction": "vertical", "gradientLength": 430, "gradientThickness": 24, "title": null, "values": [0, 0.05, 0.1, 0.15, 0.2], "format": ".2f", "labelFont": "DejaVu Sans", "labelFontSize": 11, "labelColor": "#222222", "gradientStrokeColor": "#444444", "gradientStrokeWidth": 1, "labelOffset": 6}}
}
},
{
"transform": [{"filter": "datum.c != 'N'"}],
"mark": {"type": "circle", "size": 55, "opacity": 1},
"encoding": {
"x": {"field": "s", "type": "ordinal", "axis": null},
"y": {"field": "e", "type": "ordinal", "axis": null},
"fill": {"field": "c", "type": "nominal", "scale": {"domain": ["R", "B"], "range": ["#ff0000", "#0000ff"]}, "legend": null}
}
},
{
"transform": [{"filter": "datum.c == 'N'"}],
"mark": {"type": "point", "shape": "circle", "filled": false, "size": 38, "stroke": "#bbbbbb", "strokeWidth": 1, "opacity": 1},
"encoding": {
"x": {"field": "s", "type": "ordinal", "axis": {"orient": "top", "labels": false, "title": null, "bandPosition": 0.5, "domain": false, "grid": false, "tickSize": 7, "tickColor": "#333333"}},
"y": {"field": "e", "type": "ordinal", "axis": {"orient": "right", "labels": false, "title": null, "bandPosition": 0.5, "domain": false, "grid": false, "tickSize": 7, "tickColor": "#333333"}}
}
}
],
"resolve": {"axis": {"x": "independent", "y": "independent"}}
}
